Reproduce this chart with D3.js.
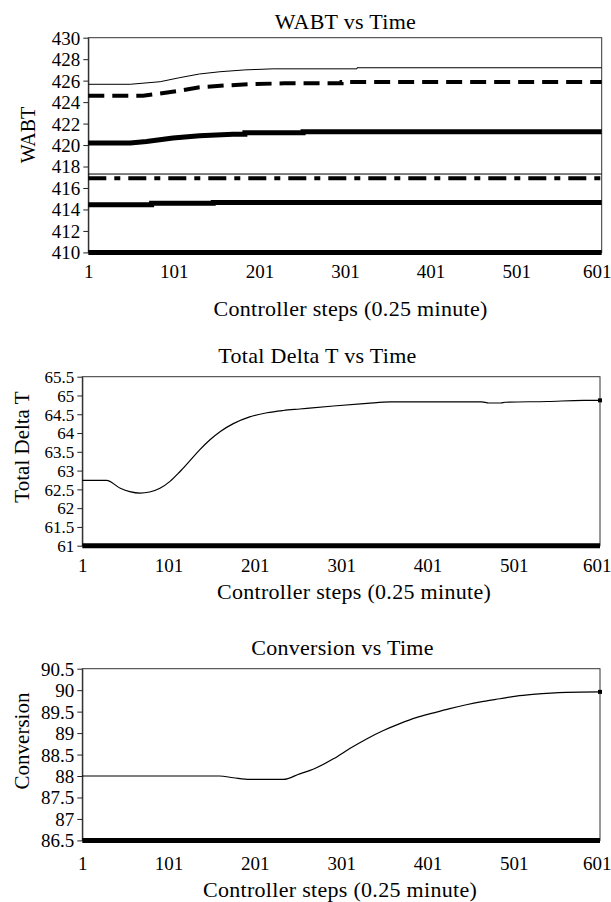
<!DOCTYPE html>
<html>
<head>
<meta charset="utf-8">
<script src="https://cdn.jsdelivr.net/npm/d3@7"></script>
<style>
  html, body { margin: 0; padding: 0; background: #fff; }
  svg text { font-family: "Liberation Serif", "Times New Roman", serif; fill: #000; }
</style>
</head>
<body>
<svg id="chart" width="611" height="902"></svg>
<script>
// x axis (controller steps)
const stepTicks = [1, 101, 201, 301, 401, 501, 601];

// WABT panel: [step, value] pairs
const wabtTicks = [410, 412, 414, 416, 418, 420, 422, 424, 426, 428, 430];
const wabtThin = [[1, 425.66], [50, 425.66], [85, 425.9], [108, 426.28], [131, 426.62], [155, 426.83], [184, 427.0], [217, 427.1], [315, 427.1], [315, 427.2], [601, 427.2]];
const wabtDashed = [[1, 424.6], [65, 424.6], [85, 424.8], [108, 425.06], [131, 425.38], [163, 425.56], [193, 425.68], [230, 425.75], [297, 425.75], [297, 425.88], [601, 425.88]];
const wabtThick = [[1, 420.2], [50, 420.2], [69, 420.34], [100, 420.65], [131, 420.87], [170, 421.0], [184, 421.0], [184, 421.15], [252, 421.15], [252, 421.24], [601, 421.24]];
const wabtLimit = [[1, 417.3], [601, 417.3]];
const wabtDashDot = [[1, 416.9], [601, 416.9]];
const wabtLower = [[1, 414.45], [75, 414.45], [75, 414.57], [147, 414.57], [147, 414.66], [601, 414.66]];
const wabtFloor = [[1, 410], [601, 410]];

// Total Delta T panel
const deltaTicks = [61, 61.5, 62, 62.5, 63, 63.5, 64, 64.5, 65, 65.5];
const deltaSteps = [1, 29, 45, 56, 68, 79, 91, 103, 114, 126, 137, 149, 161, 176, 195, 215, 234, 253, 292, 331, 358, 464, 472, 486, 491, 540, 582, 601];
const deltaValues = [62.74, 62.74, 62.53, 62.44, 62.40, 62.43, 62.53, 62.72, 62.97, 63.27, 63.55, 63.82, 64.04, 64.25, 64.43, 64.54, 64.60, 64.64, 64.72, 64.79, 64.83, 64.83, 64.80, 64.80, 64.82, 64.84, 64.87, 64.87];
const deltaFloor = [[1, 61], [601, 61]];

// Conversion panel
const convTicks = [86.5, 87, 87.5, 88, 88.5, 89, 89.5, 90, 90.5];
const convSteps = [1, 160, 176, 195, 234, 253, 265, 292, 311, 331, 350, 369, 388, 408, 427, 446, 466, 485, 504, 523, 562, 601];
const convValues = [88.0, 88.0, 87.96, 87.92, 87.92, 88.05, 88.13, 88.40, 88.64, 88.87, 89.06, 89.22, 89.36, 89.47, 89.57, 89.66, 89.74, 89.80, 89.86, 89.90, 89.95, 89.96];
const convFloor = [[1, 86.5], [601, 86.5]];

const svg = d3.select('#chart');
const W = 611;
const serif = '"Liberation Serif", "Times New Roman", serif';

function drawPanel(p) {
    const x = d3.scaleLinear().domain([1, 601]).range([p.left, p.right]);
    const y = d3.scaleLinear().domain(p.domain).range([p.bottom, p.top]);
    const g = svg.append('g');

    // plot box
    g.append('rect')
        .attr('x', p.left).attr('y', p.top)
        .attr('width', p.right - p.left).attr('height', p.bottom - p.top)
        .attr('fill', 'none').attr('stroke', '#333').attr('stroke-width', 1);

    // y axis
    const yAxis = g.append('g')
        .attr('transform', `translate(${p.left},0)`)
        .call(d3.axisLeft(y).tickValues(p.ticks).tickSize(5).tickSizeOuter(0).tickPadding(3)
            .tickFormat(d => String(+d.toFixed(1))));
    yAxis.select('.domain').attr('stroke', '#222');
    yAxis.selectAll('.tick line').attr('stroke', '#222');
    yAxis.selectAll('text').style('font-size', p.yFont + 'px').attr('dy', '0.34em')
        .style('font-family', serif);

    // x axis
    const xAxis = g.append('g')
        .attr('transform', `translate(0,${p.bottom})`)
        .call(d3.axisBottom(x).tickValues(stepTicks).tickSize(0).tickPadding(p.xPad));
    xAxis.select('.domain').remove();
    xAxis.selectAll('text').style('font-size', '19px').style('font-family', serif);
    xAxis.selectAll('.tick').each(function (d) {
        const t = d3.select(this).select('text');
        const half = this.querySelector('text').getComputedTextLength() / 2;
        if (x(d) + half > W) t.attr('x', W - half - x(d));
    });

    const line = d3.line().x(d => x(d[0])).y(d => y(d[1]));

    p.series.forEach(s => {
        g.append('path')
            .attr('fill', 'none')
            .attr('stroke', '#000')
            .attr('stroke-width', s.width)
            .attr('stroke-dasharray', s.dash || null)
            .attr('d', line.curve(s.curve || d3.curveLinear)(s.data));
        if (s.endMark) {
            const last = s.data[s.data.length - 1];
            g.append('rect')
                .attr('x', x(last[0]) - 2).attr('y', y(last[1]) - 2)
                .attr('width', 4).attr('height', 4).attr('fill', '#000');
        }
    });

    // titles
    g.append('text')
        .attr('x', p.titleX).attr('y', p.titleY)
        .attr('text-anchor', 'middle').attr('dominant-baseline', 'central')
        .style('font-size', '22px').style('letter-spacing', '0.3px').text(p.title);
    g.append('text')
        .attr('x', p.xTitleX).attr('y', p.xTitleY)
        .attr('text-anchor', 'middle').attr('dominant-baseline', 'central')
        .style('font-size', '22px').style('letter-spacing', '0.3px')
        .text('Controller steps (0.25 minute)');
    g.append('text')
        .attr('transform', `translate(${p.yTitleX},${p.yTitleY}) rotate(-90)`)
        .attr('text-anchor', 'middle').attr('dominant-baseline', 'central')
        .style('font-size', p.yTitleFont + 'px').text(p.yTitle);
}

drawPanel({
    left: 88.3, right: 601.7, top: 37.7, bottom: 252.4,
    domain: [410, 430], ticks: wabtTicks, yFont: 19, xPad: 12,
    title: 'WABT vs Time', titleX: 345.5, titleY: 21,
    xTitleX: 350.5, xTitleY: 308,
    yTitle: 'WABT', yTitleX: 28, yTitleY: 135, yTitleFont: 20,
    series: [
        { data: wabtThin, width: 1 },
        { data: wabtDashed, width: 4, dash: '16 8' },
        { data: wabtThick, width: 5 },
        { data: wabtLimit, width: 1 },
        { data: wabtDashDot, width: 4, dash: '18 8 6 8' },
        { data: wabtLower, width: 5 },
        { data: wabtFloor, width: 5 }
    ]
});

drawPanel({
    left: 82.3, right: 600, top: 376.7, bottom: 545.7,
    domain: [61, 65.5], ticks: deltaTicks, yFont: 17, xPad: 13,
    title: 'Total Delta T vs Time', titleX: 317.5, titleY: 355,
    xTitleX: 354, xTitleY: 591.7,
    yTitle: 'Total Delta T', yTitleX: 22, yTitleY: 447, yTitleFont: 21,
    series: [
        { data: deltaSteps.map((s, i) => [s, deltaValues[i]]), width: 1.2, curve: d3.curveMonotoneX, endMark: true },
        { data: deltaFloor, width: 5 }
    ]
});

drawPanel({
    left: 82.3, right: 600, top: 668.7, bottom: 840.4,
    domain: [86.5, 90.5], ticks: convTicks, yFont: 19, xPad: 16,
    title: 'Conversion vs Time', titleX: 342.5, titleY: 647,
    xTitleX: 340, xTitleY: 889,
    yTitle: 'Conversion', yTitleX: 22, yTitleY: 741, yTitleFont: 21,
    series: [
        { data: convSteps.map((s, i) => [s, convValues[i]]), width: 1.2, curve: d3.curveMonotoneX, endMark: true },
        { data: convFloor, width: 5 }
    ]
});
</script>
</body>
</html>
